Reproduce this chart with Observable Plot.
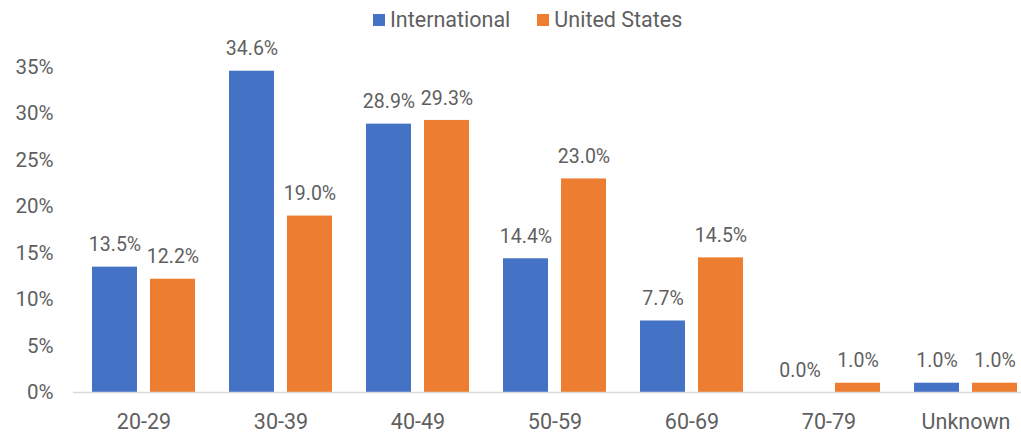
<!DOCTYPE html>
<html>
<head>
<meta charset="utf-8">
<script src="https://cdn.jsdelivr.net/npm/d3@7"></script>
<script src="https://cdn.jsdelivr.net/npm/@observablehq/plot@0.6"></script>
<style>
  html, body { margin: 0; padding: 0; background: #fff; overflow: hidden; }
  #wrap { position: relative; width: 1021px; height: 436px; font-family: Roboto, sans-serif; }
  #legend { position: absolute; top: 7px; left: 373px; display: flex; align-items: center; gap: 27px;
            font-size: 21.5px; color: #5f5f5f; }
  #legend .item { display: flex; align-items: center; }
  #legend .sw { width: 12px; height: 12px; margin-right: 5px; display: inline-block; }
  #chart { position: absolute; left: 0; top: 0; }
</style>
</head>
<body>
<div id="wrap">
  <div id="chart"></div>
  <div id="legend"></div>
</div>
<script>
const categories = ["20-29", "30-39", "40-49", "50-59", "60-69", "70-79", "Unknown"];
const seriesNames = ["International", "United States"];
const international = [13.5, 34.6, 28.9, 14.4, 7.7, 0.0, 1.0];
const unitedStates = [12.2, 19.0, 29.3, 23.0, 14.5, 1.0, 1.0];
const yTicks = [0, 5, 10, 15, 20, 25, 30, 35];
const colors = ["#4472C4", "#ED7D31"];

const intlData = categories.map((c, i) => ({category: c, series: seriesNames[0], value: international[i]}));
const usData = categories.map((c, i) => ({category: c, series: seriesNames[1], value: unitedStates[i]}));

const textColor = "#5f5f5f";
const half = 58; // inset to split each band into two bars

const chart = Plot.plot({
  width: 1021,
  height: 436,
  marginLeft: 73,
  marginRight: 0,
  marginTop: 67,
  marginBottom: 44,
  style: {fontFamily: "Roboto, sans-serif", color: textColor, background: "transparent"},
  x: {domain: categories, range: [73, 1035], paddingInner: 0.25, paddingOuter: 0.125, label: null},
  y: {domain: [0, 35], label: null},
  marks: [
    Plot.axisY({ticks: yTicks, tickFormat: d => d + "%", tickSize: 0, tickPadding: 20, fontSize: 20.5, label: null}),
    Plot.axisX({tickSize: 0, tickPadding: 21, fontSize: 21.5, label: null}),
    Plot.barY(intlData, {x: "category", y: "value", fill: colors[0], insetRight: half}),
    Plot.barY(usData, {x: "category", y: "value", fill: colors[1], insetLeft: half}),
    Plot.ruleY([0], {stroke: "#d9d9d9", strokeWidth: 1.5}),
    Plot.text(intlData, {x: "category", y: "value", text: d => d.value.toFixed(1) + "%", dx: -29, dy: -22, fontSize: 19.5, fill: textColor}),
    Plot.text(usData, {x: "category", y: "value", text: d => d.value.toFixed(1) + "%", dx: 29, dy: -22, fontSize: 19.5, fill: textColor})
  ]
});
document.getElementById("chart").appendChild(chart);

const legend = document.getElementById("legend");
seriesNames.forEach((name, i) => {
  const item = document.createElement("div");
  item.className = "item";
  const sw = document.createElement("span");
  sw.className = "sw";
  sw.style.background = colors[i];
  const label = document.createElement("span");
  label.textContent = name;
  item.appendChild(sw);
  item.appendChild(label);
  legend.appendChild(item);
});
</script>
</body>
</html>
